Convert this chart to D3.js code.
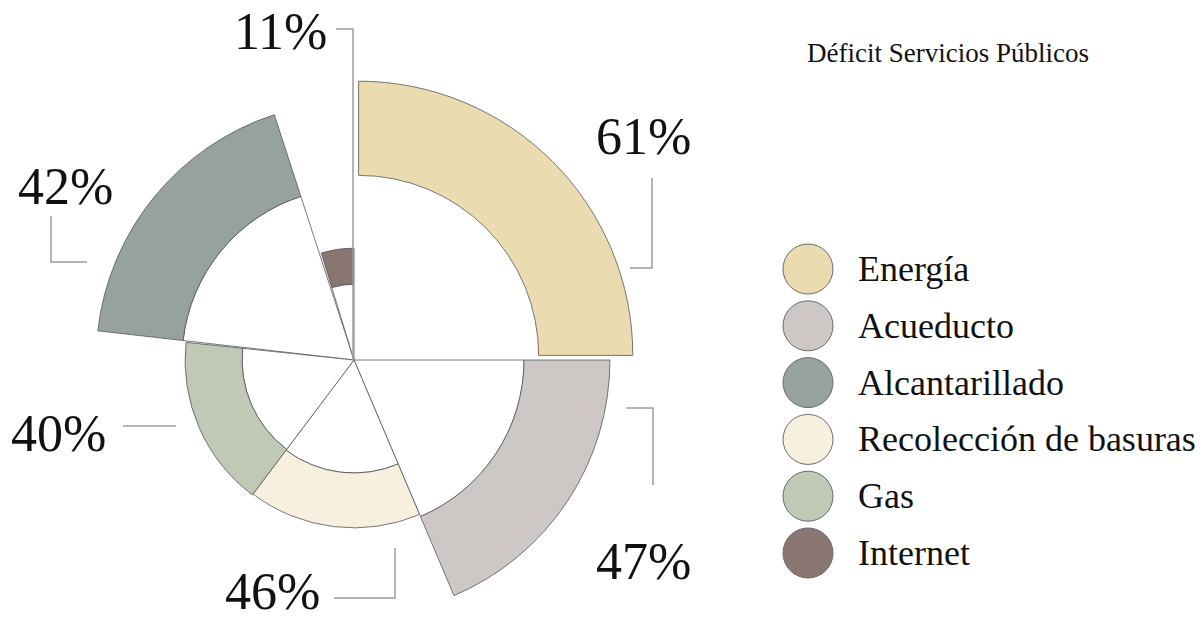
<!DOCTYPE html>
<html>
<head>
<meta charset="utf-8">
<script src="https://cdn.jsdelivr.net/npm/d3@7"></script>
<style>
  body { margin: 0; background: #fff; }
  svg { display: block; }
</style>
</head>
<body>
<div id="chart"></div>
<script>
// categories in legend order
var categories = ["Energía", "Acueducto", "Alcantarillado", "Recolección de basuras", "Gas", "Internet"];
var values = [61, 47, 42, 46, 40, 11];
// angular extent of each petal (degrees, clockwise from 12 o'clock)
var startDeg = [0, 90, 276.5, 157, 217, 343];
var endDeg = [90, 157, 342, 217, 276, 360];
// ring extent of each petal (radial units, 0-100)
var innerLen = [65, 61.4, 62.1, 40.8, 40.4, 27.4];
var outerLen = [99, 92.4, 93.1, 60.6, 61, 40.4];
var explode = [6.5, 0, 0, 0, 0, 0];
var colors = ["#ebdbb1", "#cdc7c5", "#95a2a0", "#f7f0df", "#bfc9b6", "#8a7671"];

var width = 1203, height = 621;
var cx = 354, cy = 360;
var font = "'Liberation Serif', 'Times New Roman', serif";

var svg = d3.select("#chart")
  .append("svg")
  .attr("width", width)
  .attr("height", height);

var angle = d3.scaleLinear().domain([0, 360]).range([0, 2 * Math.PI]);
var radius = d3.scaleLinear().domain([0, 100]).range([0, 277]);

var data = categories.map(function(c, i) {
  return {name: c, value: values[i], start: startDeg[i], end: endDeg[i],
    inner: innerLen[i], outer: outerLen[i], explode: explode[i], color: colors[i]};
});

var g = svg.append("g")
  .attr("transform", "translate(" + cx + "," + cy + ")");

var wedge = d3.arc()
  .innerRadius(0)
  .outerRadius(d => radius(d.inner))
  .startAngle(d => angle(d.start))
  .endAngle(d => angle(d.end));

var band = d3.arc()
  .innerRadius(d => radius(d.inner))
  .outerRadius(d => radius(d.outer))
  .startAngle(d => angle(d.start))
  .endAngle(d => angle(d.end));

function shift(d) {
  var a = angle((d.start + d.end) / 2);
  return "translate(" + (Math.sin(a) * d.explode) + "," + (-Math.cos(a) * d.explode) + ")";
}

// white inner wedges (only for slices that are not pulled out)
g.selectAll("path.wedge")
  .data(data.filter(d => d.explode == 0))
  .join("path")
  .attr("class", "wedge")
  .attr("d", wedge)
  .style("fill", "#fff")
  .style("stroke", "#555")
  .style("stroke-width", 0.8);

// coloured rings
g.selectAll("path.band")
  .data(data)
  .join("path")
  .attr("class", "band")
  .attr("d", band)
  .attr("transform", shift)
  .style("fill", d => d.color)
  .style("stroke", "#555")
  .style("stroke-width", 0.8);

// percentage labels with leader lines (hand placed, like the original)
var callouts = {
  "Energía": {x: 596, y: 154, line: [[630, 268], [652, 268], [652, 178]]},
  "Acueducto": {x: 596, y: 579, line: [[626, 408], [653, 408], [653, 485]]},
  "Alcantarillado": {x: 18, y: 204, line: [[51, 216], [51, 262], [87, 262]]},
  "Recolección de basuras": {x: 225, y: 609, line: [[334, 598], [395, 598], [395, 548]]},
  "Gas": {x: 11, y: 451, line: [[123, 426], [176, 426]]},
  "Internet": {x: 234, y: 49, line: [[336, 29], [353, 29], [353, 360]]}
};

var leader = d3.line();

svg.selectAll("path.leader")
  .data(data)
  .join("path")
  .attr("class", "leader")
  .attr("d", d => leader(callouts[d.name].line))
  .style("fill", "none")
  .style("stroke", "#9c9c9c")
  .style("stroke-width", 1.5);

svg.selectAll("text.pct")
  .data(data)
  .join("text")
  .attr("class", "pct")
  .attr("x", d => callouts[d.name].x)
  .attr("y", d => callouts[d.name].y)
  .style("font-family", font)
  .style("font-size", "52px")
  .style("fill", "#111")
  .text(d => d.value + "%");

// title
svg.append("text")
  .attr("x", 807)
  .attr("y", 62)
  .style("font-family", font)
  .style("font-size", "27px")
  .style("fill", "#111")
  .text("Déficit Servicios Públicos");

// legend
var legendY = d3.scalePoint()
  .domain(categories)
  .range([269, 553]);

var legend = svg.selectAll("g.legend")
  .data(data)
  .join("g")
  .attr("class", "legend")
  .attr("transform", d => "translate(808," + legendY(d.name) + ")");

legend.append("circle")
  .attr("r", 25)
  .style("fill", d => d.color)
  .style("stroke", "#6b6b6b")
  .style("stroke-width", 1);

legend.append("text")
  .attr("x", 50)
  .attr("y", 12)
  .style("font-family", font)
  .style("font-size", "36px")
  .style("fill", "#111")
  .text(d => d.name);
</script>
</body>
</html>
